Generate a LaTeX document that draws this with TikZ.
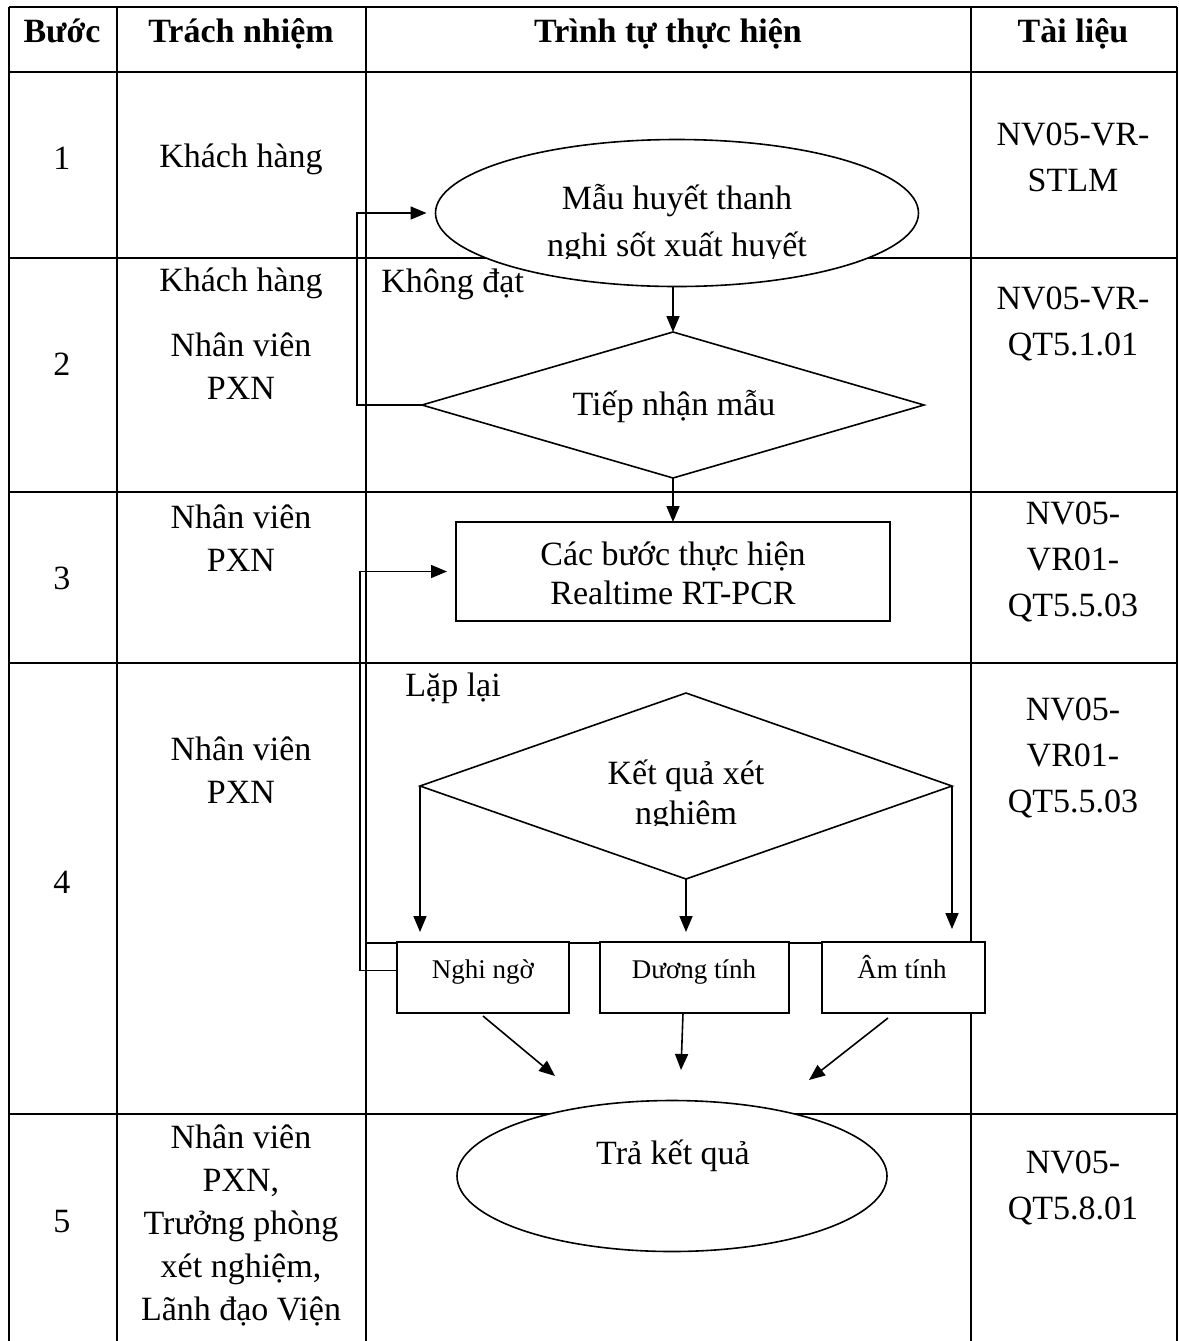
\documentclass[tikz,border=0pt]{standalone}
\usepackage{fontspec}
\setmainfont{Liberation Serif}
\usetikzlibrary{shapes.geometric,arrows.meta}
\begin{document}
\begin{tikzpicture}[x=0.5pt,y=-0.5pt,
  tl/.style={line width=1.1pt},
  shp/.style={draw, line width=0.8pt, fill=white, inner sep=0pt, outer sep=0pt},
  arr/.style={line width=0.8pt, -{Triangle[length=8pt,width=6.5pt]}},
  txt/.style={font=\fontsize{17}{21.5}\selectfont, align=center, inner sep=0pt},
  doc/.style={font=\fontsize{17}{23}\selectfont, align=center, inner sep=0pt},
  hdr/.style={font=\fontsize{17}{21.5}\selectfont\bfseries, inner sep=0pt, anchor=base},
  small/.style={font=\fontsize{13.5}{16}\selectfont, inner sep=0pt, anchor=base}
]
\useasboundingbox (0,0) rectangle (1179,1341);
% table
\foreach \yy in {7,72,258,492,663,1114} {\draw[tl] (9,\yy) -- (1177,\yy);}
\foreach \xx in {9,117,366,971,1177} {\draw[tl] (\xx,7) -- (\xx,1341);}
\draw[tl] (366,943) -- (971,943);
% header
\node[hdr] (h1) at (62,42) {Bước};
\node[hdr] (h2) at (241,42) {Trách nhiệm};
\node[hdr] (h3) at (668,42) {Trình tự thực hiện};
\node[hdr] (h4) at (1073,42) {Tài liệu};
% column 1
\node[txt] (s1) at (62,158) {1};
\node[txt] (s2) at (62,364) {2};
\node[txt] (s3) at (62,578) {3};
\node[txt] (s4) at (62,882) {4};
\node[txt] (s5) at (62,1222) {5};
% column 2
\node[txt] (r1a) at (241,159) {Khách hàng};
\node[txt] (r2a) at (241,283) {Khách hàng};
\node[txt] (r2b) at (241,366) {Nhân viên\\PXN};
\node[txt] (r3a) at (241,538) {Nhân viên\\PXN};
\node[txt] (r4a) at (241,770) {Nhân viên\\PXN};
\node[txt] (r5a) at (241,1225) {Nhân viên\\PXN,\\Trưởng phòng\\xét nghiệm,\\Lãnh đạo Viện};
% column 4
\node[doc] (d1a) at (1073,157) {NV05-VR-\\STLM};
\node[doc] (d2a) at (1073,324) {NV05-VR-\\QT5.1.01};
\node[doc] (d3a) at (1073,562) {NV05-\\VR01-\\QT5.5.03};
\node[doc] (d4a) at (1073,758) {NV05-\\VR01-\\QT5.5.03};
\node[doc] (d5a) at (1073,1188) {NV05-\\QT5.8.01};
% flow shapes
\node[shp, ellipse, minimum width=241.5pt, minimum height=73.5pt] (e1) at (677,213) {};
\begin{scope}
  \clip (430,130) rectangle (930,258);
  \node[txt, font=\fontsize{17}{23.5}\selectfont] (e1t) at (677,224) {Mẫu huyết thanh\\nghi sốt xuất huyết};
\end{scope}
\node[shp, diamond, minimum width=251pt, minimum height=73pt] (d1) at (673,405) {};
\node[txt] (d1t) at (674,406) {Tiếp nhận mẫu};
\node[shp, rectangle, minimum width=217pt, minimum height=49.5pt] (r1) at (673,571.5) {};
\node[txt, font=\fontsize{17}{19.5}\selectfont] (r1t) at (673,573) {Các bước thực hiện\\Realtime RT-PCR};
\node[shp, diamond, minimum width=266pt, minimum height=93pt] (d2) at (686,786) {};
\begin{scope}
  \clip (420,690) rectangle (952,825);
  \node[txt, font=\fontsize{17}{20}\selectfont] (d2t) at (686,796) {Kết quả xét\\nghiệm};
\end{scope}
\node[shp, rectangle, minimum width=86pt, minimum height=35.5pt] (nn) at (483,977.5) {};
\node[shp, rectangle, minimum width=94.5pt, minimum height=35.5pt] (dt) at (694.5,977.5) {};
\node[shp, rectangle, minimum width=81.5pt, minimum height=35.5pt] (at) at (903.5,977.5) {};
\node[small] (nnt) at (483,978) {Nghi ngờ};
\node[small] (dtt) at (694,978) {Dương tính};
\node[small] (att) at (902,978) {Âm tính};
\node[shp, ellipse, minimum width=215pt, minimum height=75.5pt] (e2) at (672,1176) {};
\node[txt] (e2t) at (673,1156) {Trả kết quả};
% labels
\node[txt, anchor=west] (lk) at (381,284) {Không đạt};
\node[txt, anchor=west] (ll) at (405,688) {Lặp lại};
% connectors
\coordinate (loopA) at (357,0);
\coordinate (loopB) at (360,0);
\draw[arr] (e1.south -| d1.north) -- (d1.north);
\draw[arr] (d1.west) -- (d1.west -| loopA) |- ([xshift=-4.5pt]e1.west);
\draw[arr] (d1.south) -- (r1.north -| d1.south);
\draw[arr] ([yshift=3.5pt]nn.west) -- ([yshift=3.5pt]nn.west -| loopB) |- ([xshift=-4.5pt]r1.west);
\draw[arr] (d2.west) -- ([yshift=5pt]d2.west |- nn.north);
\draw[arr] (d2.south) -- ([yshift=5pt]d2.south |- dt.north);
\draw[arr] (d2.east) -- ([yshift=6.5pt]d2.east |- at.north);
\coordinate (t1) at (555,1076);
\coordinate (t2) at (681,1070);
\coordinate (t3) at (809,1080);
\draw[arr] ([yshift=-1.5pt]nn.south) -- (t1);
\draw[arr] ([xshift=-5.75pt]dt.south) -- (t2);
\draw[arr] ([xshift=-7.75pt,yshift=-2.5pt]at.south) -- (t3);
\end{tikzpicture}
\end{document}
